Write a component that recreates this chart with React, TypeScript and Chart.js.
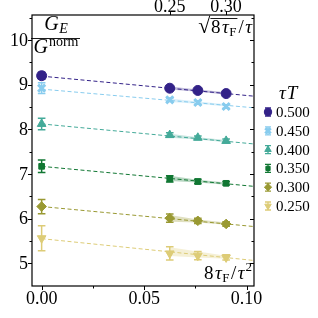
import React, { useEffect, useRef } from "react";
import { Chart, registerables } from "chart.js";
import { drawPoint } from "chart.js/helpers";

Chart.register(...registerables);

// ---- data ----
const tauT = ["0.500", "0.450", "0.400", "0.350", "0.300", "0.250"];
const colors = ["#332288", "#88CCEE", "#44AA99", "#117733", "#999933", "#DDCC77"];
const xData = [0, 0.0625, 0.0762, 0.09];
const xFit = [0, 0.104];

const vals500 = [9.2, 8.92, 8.87, 8.8];
const vals450 = [8.92, 8.66, 8.6, 8.51];
const vals400 = [8.12, 7.87, 7.81, 7.74];
const vals350 = [7.17, 6.89, 6.83, 6.79];
const vals300 = [6.27, 6.01, 5.95, 5.88];
const vals250 = [5.56, 5.22, 5.17, 5.13];

const errs500 = [0.08, 0.04, 0.04, 0.04];
const errs450 = [0.12, 0.04, 0.04, 0.04];
const errs400 = [0.13, 0.05, 0.04, 0.04];
const errs350 = [0.14, 0.07, 0.05, 0.04];
const errs300 = [0.16, 0.09, 0.06, 0.05];
const errs250 = [0.28, 0.15, 0.09, 0.06];

const fit500 = [9.19, 8.74];
const fit450 = [8.9, 8.48];
const fit400 = [8.12, 7.67];
const fit350 = [7.17, 6.72];
const fit300 = [6.27, 5.82];
const fit250 = [5.55, 5.06];

const bandX = [0.0625, 0.0762, 0.09];
const bandHi500 = [8.96, 8.89, 8.83];
const bandLo500 = [8.89, 8.84, 8.78];
const bandHi450 = [8.69, 8.62, 8.56];
const bandLo450 = [8.61, 8.57, 8.51];
const bandHi400 = [7.9, 7.82, 7.76];
const bandLo400 = [7.81, 7.77, 7.71];
const bandHi350 = [6.96, 6.87, 6.81];
const bandLo350 = [6.84, 6.81, 6.76];
const bandHi300 = [6.08, 5.98, 5.91];
const bandLo300 = [5.93, 5.91, 5.86];
const bandHi250 = [5.36, 5.26, 5.17];
const bandLo250 = [5.16, 5.13, 5.1];

const yTicks = [5, 6, 7, 8, 9, 10];
const yMinor = [4.5, 5.5, 6.5, 7.5, 8.5, 9.5, 10.5];
const xTicks = [0, 0.05, 0.1];
const xTickLabels = ["0.00", "0.05", "0.10"];
const xMinor = [0.025, 0.075];
const topTicks = [0.0625, 0.09];
const topTickLabels = ["0.25", "0.30"];

const values = [vals500, vals450, vals400, vals350, vals300, vals250];
const errors = [errs500, errs450, errs400, errs350, errs300, errs250];
const fits = [fit500, fit450, fit400, fit350, fit300, fit250];
const bandHi = [bandHi500, bandHi450, bandHi400, bandHi350, bandHi300, bandHi250];
const bandLo = [bandLo500, bandLo450, bandLo400, bandLo350, bandLo300, bandLo250];

const markers = [
  { pointStyle: "circle", radius: 5, rotation: 0, borderWidth: 1 },
  { pointStyle: "crossRot", radius: 5, rotation: 0, borderWidth: 3 },
  { pointStyle: "triangle", radius: 5, rotation: 0, borderWidth: 1 },
  { pointStyle: "rect", radius: 4, rotation: 0, borderWidth: 1 },
  { pointStyle: "rectRot", radius: 4.8, rotation: 0, borderWidth: 1 },
  { pointStyle: "triangle", radius: 5, rotation: 180, borderWidth: 1 },
];

const SERIF = '"Liberation Serif", "DejaVu Serif", serif';

function hexA(hex: string, a: number) {
  const n = parseInt(hex.slice(1), 16);
  return `rgba(${(n >> 16) & 255},${(n >> 8) & 255},${n & 255},${a})`;
}

type Run = { t: string; it?: boolean; s: number; dy?: number; g?: number };
function runsWidth(ctx: CanvasRenderingContext2D, runs: Run[]) {
  let w = 0;
  for (const r of runs) {
    ctx.font = `${r.it ? "italic " : ""}${r.s}px ${SERIF}`;
    w += ctx.measureText(r.t).width + (r.g || 0);
  }
  return w;
}
function drawRuns(ctx: CanvasRenderingContext2D, runs: Run[], x: number, y: number) {
  ctx.textAlign = "left";
  ctx.textBaseline = "alphabetic";
  let cx = x;
  const pos: number[] = [];
  for (const r of runs) {
    ctx.font = `${r.it ? "italic " : ""}${r.s}px ${SERIF}`;
    pos.push(cx);
    ctx.fillText(r.t, cx, y + (r.dy || 0));
    cx += ctx.measureText(r.t).width + (r.g || 0);
  }
  pos.push(cx);
  return pos;
}

const decorPlugin = {
  id: "decor",
  beforeDatasetDraw(chart: any, args: any) {
    const ds = chart.data.datasets[args.index];
    if (!ds.errs) return;
    const ctx = chart.ctx;
    const xs = chart.scales.x;
    const ys = chart.scales.y;
    ctx.save();
    ctx.strokeStyle = ds.borderColor;
    ctx.lineWidth = 1.5;
    ds.data.forEach((p: any, i: number) => {
      const px = xs.getPixelForValue(p.x);
      const y1 = ys.getPixelForValue(p.y + ds.errs[i]);
      const y2 = ys.getPixelForValue(p.y - ds.errs[i]);
      ctx.beginPath();
      ctx.moveTo(px, y1);
      ctx.lineTo(px, y2);
      ctx.moveTo(px - 3.8, y1);
      ctx.lineTo(px + 3.8, y1);
      ctx.moveTo(px - 3.8, y2);
      ctx.lineTo(px + 3.8, y2);
      ctx.stroke();
    });
    ctx.restore();
  },
  afterDraw(chart: any) {
    const ctx: CanvasRenderingContext2D = chart.ctx;
    const { left, right, top, bottom } = chart.chartArea;
    const xs = chart.scales.x;
    const ys = chart.scales.y;
    ctx.save();
    ctx.strokeStyle = "#000";
    ctx.fillStyle = "#000";
    ctx.lineWidth = 1.2;
    ctx.strokeRect(left, top, right - left, bottom - top);
    ctx.lineWidth = 1;
    ctx.beginPath();
    for (const v of yTicks) {
      const py = Math.round(ys.getPixelForValue(v)) + 0.5;
      ctx.moveTo(left - 4, py);
      ctx.lineTo(left, py);
      ctx.moveTo(right - 4, py);
      ctx.lineTo(right, py);
    }
    for (const v of yMinor) {
      const py = Math.round(ys.getPixelForValue(v)) + 0.5;
      if (py < top || py > bottom) continue;
      ctx.moveTo(left - 2.5, py);
      ctx.lineTo(left, py);
      ctx.moveTo(right - 2.5, py);
      ctx.lineTo(right, py);
    }
    for (const v of xTicks) {
      const px = Math.round(xs.getPixelForValue(v)) + 0.5;
      ctx.moveTo(px, bottom);
      ctx.lineTo(px, bottom + 4);
    }
    for (const v of xMinor) {
      const px = Math.round(xs.getPixelForValue(v)) + 0.5;
      ctx.moveTo(px, bottom);
      ctx.lineTo(px, bottom + 2.5);
    }
    for (const v of topTicks) {
      const px = Math.round(xs.getPixelForValue(v)) + 0.5;
      ctx.moveTo(px, top);
      ctx.lineTo(px, top - 4);
    }
    ctx.stroke();

    // tick labels
    ctx.font = `18px ${SERIF}`;
    ctx.textAlign = "right";
    ctx.textBaseline = "middle";
    for (const v of yTicks) {
      ctx.fillText(String(v), left - 4, ys.getPixelForValue(v) + 1);
    }
    ctx.textAlign = "center";
    ctx.textBaseline = "top";
    xTicks.forEach((v, i) => {
      ctx.fillText(xTickLabels[i], xs.getPixelForValue(v), bottom + 4);
    });
    ctx.textBaseline = "alphabetic";
    topTicks.forEach((v, i) => {
      ctx.fillText(topTickLabels[i], xs.getPixelForValue(v), 12);
    });

    // fraction label
    const num: Run[] = [
      { t: "G", it: true, s: 20, g: 0.5 },
      { t: "E", it: true, s: 14, dy: 3 },
    ];
    const den: Run[] = [
      { t: "G", it: true, s: 20, g: 1 },
      { t: "norm", s: 14, dy: -7 },
    ];
    const cxF = 56;
    drawRuns(ctx, num, cxF - runsWidth(ctx, num) / 2, 30);
    drawRuns(ctx, den, cxF - runsWidth(ctx, den) / 2, 53);
    ctx.lineWidth = 0.9;
    ctx.beginPath();
    ctx.moveTo(31, 38.5);
    ctx.lineTo(80, 38.5);
    ctx.stroke();

    // top-right label sqrt(8 tauF)/tau
    const sq: Run[] = [
      { t: "√", s: 22, g: 0.5 },
      { t: "8", s: 19, g: 1.5 },
      { t: "τ", it: true, s: 19, g: 0.5 },
      { t: "F", s: 13, dy: 3, g: 2 },
      { t: "/", s: 19, g: 1.5 },
      { t: "τ", it: true, s: 19, g: 1 },
    ];
    const sqW = runsWidth(ctx, sq);
    const pos = drawRuns(ctx, sq, right - 1 - sqW, 33);
    ctx.lineWidth = 0.9;
    ctx.beginPath();
    ctx.moveTo(pos[1] - 0.5, 18.5);
    ctx.lineTo(pos[4] - 1, 18.5);
    ctx.stroke();

    // bottom-right label 8 tauF / tau^2
    const bl: Run[] = [
      { t: "8", s: 19, g: 1.5 },
      { t: "τ", it: true, s: 19, g: 0.5 },
      { t: "F", s: 13, dy: 3, g: 1.5 },
      { t: "/", s: 19, g: 1.5 },
      { t: "τ", it: true, s: 19, g: 1 },
      { t: "2", s: 13, dy: -8, g: 1 },
    ];
    drawRuns(ctx, bl, right - 1 - runsWidth(ctx, bl), 279);

    // legend
    const lx = 268;
    drawRuns(ctx, [{ t: "τ", it: true, s: 19, g: 1 }, { t: "T", it: true, s: 19 }], 279, 99);
    tauT.forEach((lab, i) => {
      const y = 112 + i * 18.8;
      const c = colors[i];
      ctx.strokeStyle = c;
      ctx.fillStyle = c;
      ctx.lineWidth = 1.3;
      ctx.beginPath();
      ctx.moveTo(lx, y - 4);
      ctx.lineTo(lx, y + 4);
      ctx.moveTo(lx - 3, y - 4);
      ctx.lineTo(lx + 3, y - 4);
      ctx.moveTo(lx - 3, y + 4);
      ctx.lineTo(lx + 3, y + 4);
      ctx.stroke();
      const m = markers[i];
      ctx.lineWidth = m.borderWidth;
      drawPoint(
        ctx,
        {
          pointStyle: m.pointStyle as any,
          radius: m.radius * 0.75,
          rotation: m.rotation,
          borderWidth: m.borderWidth,
        } as any,
        lx,
        y
      );
      ctx.fillStyle = "#000";
      ctx.font = `15px ${SERIF}`;
      ctx.textAlign = "left";
      ctx.textBaseline = "middle";
      ctx.fillText(lab, lx + 8, y + 1);
    });
    ctx.restore();
  },
};

export default function App() {
  const ref = useRef<HTMLCanvasElement>(null);
  useEffect(() => {
    if (!ref.current) return;
    const datasets: any[] = [];
    tauT.forEach((lab, i) => {
      const c = colors[i];
      const m = markers[i];
      datasets.push({
        type: "scatter",
        label: lab,
        data: xData.map((x, j) => ({ x, y: values[i][j] })),
        errs: errors[i],
        backgroundColor: c,
        borderColor: c,
        pointStyle: m.pointStyle,
        pointRadius: m.radius,
        pointRotation: m.rotation,
        pointBorderWidth: m.borderWidth,
        order: 0,
      });
      datasets.push({
        type: "line",
        data: xFit.map((x, j) => ({ x, y: fits[i][j] })),
        borderColor: c,
        borderWidth: 1,
        borderDash: [4, 2.5],
        pointRadius: 0,
        fill: false,
        order: 1,
      });
      datasets.push({
        type: "line",
        data: bandX.map((x, j) => ({ x, y: bandLo[i][j] })),
        borderWidth: 0,
        pointRadius: 0,
        fill: false,
        order: 2,
      });
      datasets.push({
        type: "line",
        data: bandX.map((x, j) => ({ x, y: bandHi[i][j] })),
        borderWidth: 0,
        pointRadius: 0,
        backgroundColor: hexA(c, 0.3),
        fill: "-1",
        order: 2,
      });
    });
    const chart = new Chart(ref.current, {
      type: "scatter",
      data: { datasets },
      options: {
        animation: false,
        responsive: false,
        events: [],
        layout: { padding: { left: 32, right: 64, top: 15, bottom: 32 } },
        plugins: { legend: { display: false }, tooltip: { enabled: false } },
        scales: {
          x: { type: "linear", display: false, min: -0.0047, max: 0.1036 },
          y: { type: "linear", display: false, min: 4.49, max: 10.56 },
        },
      },
      plugins: [decorPlugin as any],
    } as any);
    return () => chart.destroy();
  }, []);
  return (
    <div style={{ position: "absolute", left: 0, top: 0, width: 318, height: 318, background: "#fff" }}>
      <canvas ref={ref} width={318} height={318} style={{ width: 318, height: 318 }} />
    </div>
  );
}
